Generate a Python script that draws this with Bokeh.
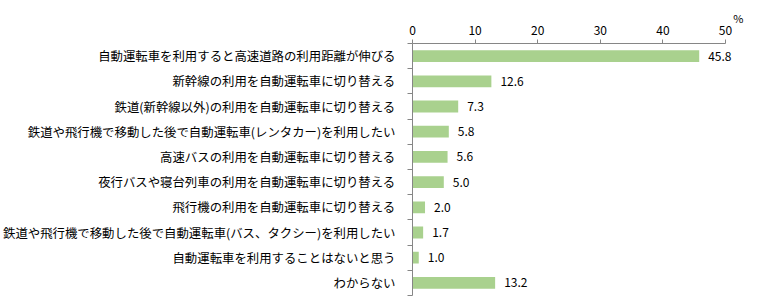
from bokeh.plotting import figure
from bokeh.models import ColumnDataSource, FixedTicker, Range1d, LabelSet
from bokeh.core.properties import value
from bokeh.embed import file_html
from bokeh.resources import INLINE

categories = [
    "自動運転車を利用すると高速道路の利用距離が伸びる",
    "新幹線の利用を自動運転車に切り替える",
    "鉄道(新幹線以外)の利用を自動運転車に切り替える",
    "鉄道や飛行機で移動した後で自動運転車(レンタカー)を利用したい",
    "高速バスの利用を自動運転車に切り替える",
    "夜行バスや寝台列車の利用を自動運転車に切り替える",
    "飛行機の利用を自動運転車に切り替える",
    "鉄道や飛行機で移動した後で自動運転車(バス、タクシー)を利用したい",
    "自動運転車を利用することはないと思う",
    "わからない",
]
values = [45.8, 12.6, 7.3, 5.8, 5.6, 5.0, 2.0, 1.7, 1.0, 13.2]
x_ticks = [0, 10, 20, 30, 40, 50]
unit_label = "%"

FONT = "Noto Sans CJK JP"
n = len(categories)
ypos = [n - i - 0.5 for i in range(n)]
x_max = x_ticks[-1]

src = ColumnDataSource(dict(
    y=ypos,
    v=values,
    lbl=["{:.1f}".format(v) for v in values],
))

p = figure(
    width=757, height=304,
    frame_width=345, frame_height=252,
    min_border_left=412, min_border_right=0,
    min_border_top=43, min_border_bottom=9,
    x_range=Range1d(0, x_max * 345 / 313), y_range=Range1d(0, n),
    x_axis_location="above",
    output_backend="svg", toolbar_location=None,
)
p.outline_line_color = None
p.xgrid.visible = False
p.ygrid.visible = False
p.background_fill_color = "white"
p.border_fill_color = "white"

p.hbar(y="y", right="v", left=0, height=0.47, source=src,
       fill_color="#A9D18E", line_color=None)

p.add_layout(LabelSet(x="v", y="y", text="lbl", source=src, x_offset=9,
                      text_font=value(FONT), text_font_size="12px",
                      text_align="left", text_baseline="middle",
                      text_color="#000000"))

# x axis (top)
xa = p.xaxis[0]
xa.ticker = FixedTicker(ticks=x_ticks)
xa.bounds = (0, x_max)
xa.axis_line_color = "#868686"
xa.major_tick_line_color = "#868686"
xa.major_tick_out = 4
xa.major_tick_in = 0
xa.minor_tick_line_color = None
xa.major_label_standoff = 5
xa.major_label_text_font = FONT
xa.major_label_text_font_size = "12px"
xa.major_label_text_color = "#000000"

# y axis (left)
ya = p.yaxis[0]
ya.ticker = FixedTicker(ticks=ypos, minor_ticks=list(range(n + 1)))
ya.major_label_overrides = {y: c for y, c in zip(ypos, categories)}
ya.axis_line_color = "#868686"
ya.major_tick_line_color = None
ya.major_tick_out = 0
ya.major_tick_in = 0
ya.minor_tick_line_color = "#868686"
ya.minor_tick_out = 5
ya.minor_tick_in = 0
ya.major_label_standoff = 12
ya.major_label_text_font = FONT
ya.major_label_text_font_size = "12.4px"
ya.major_label_text_color = "#000000"

# unit label "%" at top right
p.title.text = unit_label
p.title.align = "right"
p.title.offset = 14
p.title.standoff = -7
p.title.vertical_align = "bottom"
p.title.text_font = FONT
p.title.text_font_size = "11px"
p.title.text_font_style = "normal"
p.title.text_color = "#000000"

open("out.html", "w").write(file_html(p, INLINE))
